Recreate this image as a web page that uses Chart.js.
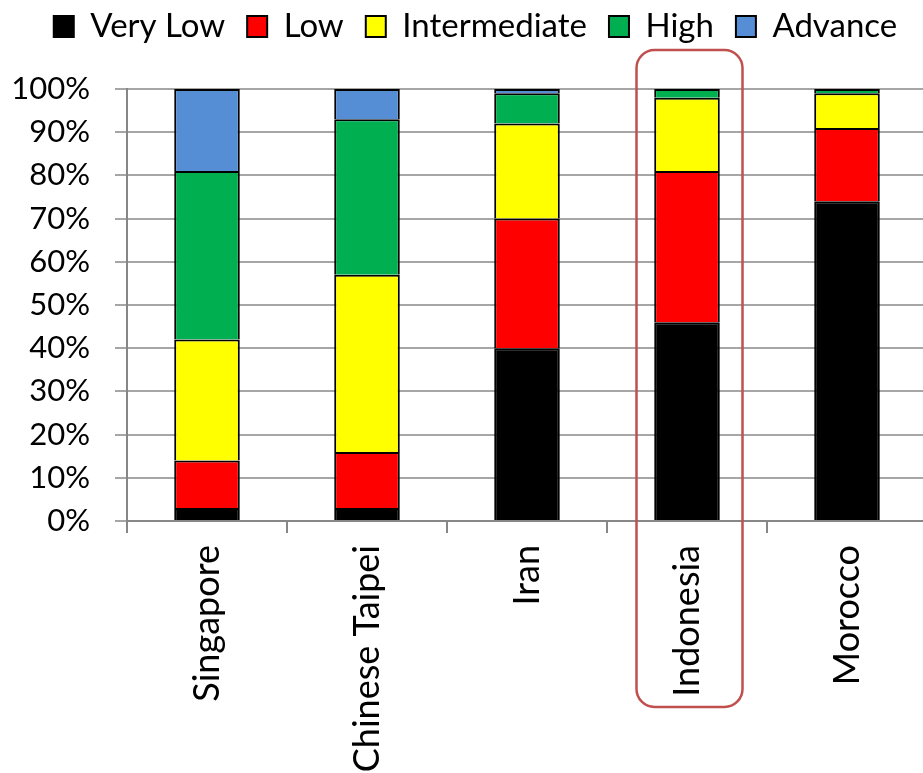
<!DOCTYPE html>
<html>
<head>
<meta charset="utf-8">
<script src="https://cdn.jsdelivr.net/npm/chart.js@4/dist/chart.umd.min.js"></script>
<style>
  html, body { margin: 0; padding: 0; background: #fff; overflow: hidden; }
  canvas { display: block; }
</style>
</head>
<body>
<canvas id="levelChart" width="927" height="773"></canvas>
<script>
// 数据
const countries = ['Singapore', 'Chinese Taipei', 'Iran', 'Indonesia', 'Morocco'];
const veryLow = [3, 3, 40, 46, 74];
const low = [11, 13, 30, 35, 17];
const intermediate = [28, 41, 22, 17, 8];
const high = [39, 36, 7, 2, 1];
const advance = [19, 7, 1, 0, 0];
const yTicks = [0, 10, 20, 30, 40, 50, 60, 70, 80, 90, 100];
const highlighted = 'Indonesia';

(function() {
  'use strict';

  const FONT = 'Lato, "Open Sans", sans-serif';
  const GRID = '#a6a6a6';
  const AXIS = '#878787';

  /**
   * 生成一个堆叠柱数据集
   */
  function series(label, data, color) {
    return {
      label: label,
      data: data,
      backgroundColor: color,
      borderColor: '#000000',
      borderWidth: 2,
      barPercentage: 0.41,
      categoryPercentage: 1.0
    };
  }

  /**
   * 图例：下方留白，整体右移一点
   */
  const legendTweak = {
    id: 'legendTweak',
    beforeUpdate(chart) {
      const legend = chart.legend;
      if (!legend || legend._patched) return;
      const fit = legend.fit;
      const draw = legend.draw;
      legend.fit = function() {
        fit.call(this);
        this.height += 36;
      };
      legend.draw = function() {
        this.ctx.save();
        this.ctx.translate(12, 0);
        draw.call(this);
        this.ctx.restore();
      };
      legend._patched = true;
    }
  };

  /**
   * 给 Indonesia 画圆角框
   */
  const highlightBox = {
    id: 'highlightBox',
    afterDraw(chart) {
      const idx = countries.indexOf(highlighted);
      if (idx < 0) return;
      const { ctx, chartArea } = chart;
      const cx = chart.scales.x.getPixelForValue(idx);
      const left = cx - 50.5;
      const right = cx + 55.5;
      const top = chartArea.top - 39;
      const bottom = chartArea.bottom + 186;
      const r = 18;
      ctx.save();
      ctx.strokeStyle = '#c0504d';
      ctx.lineWidth = 2.5;
      ctx.beginPath();
      ctx.moveTo(left + r, top);
      ctx.lineTo(right - r, top);
      ctx.arcTo(right, top, right, top + r, r);
      ctx.lineTo(right, bottom - r);
      ctx.arcTo(right, bottom, right - r, bottom, r);
      ctx.lineTo(left + r, bottom);
      ctx.arcTo(left, bottom, left, bottom - r, r);
      ctx.lineTo(left, top + r);
      ctx.arcTo(left, top, left + r, top, r);
      ctx.closePath();
      ctx.stroke();
      ctx.restore();
    }
  };

  const ctx = document.getElementById('levelChart').getContext('2d');

  new Chart(ctx, {
    type: 'bar',
    data: {
      labels: countries,
      datasets: [
        series('Very Low', veryLow, '#000000'),
        series('Low', low, '#ff0000'),
        series('Intermediate', intermediate, '#ffff00'),
        series('High', high, '#00b050'),
        series('Advance', advance, '#558ed5')
      ]
    },
    options: {
      responsive: false,
      animation: false,
      layout: { padding: { top: -12, left: 0, right: 0, bottom: 0 } },
      plugins: {
        legend: {
          position: 'top',
          labels: {
            color: '#000',
            font: { family: FONT, size: 33 },
            boxWidth: 20,
            boxHeight: 21,
            padding: 22
          }
        },
        tooltip: { enabled: false }
      },
      scales: {
        x: {
          stacked: true,
          border: { color: AXIS, width: 2 },
          grid: {
            drawOnChartArea: false,
            drawTicks: true,
            tickLength: 12,
            color: AXIS,
            lineWidth: 2
          },
          ticks: {
            color: '#000',
            font: { family: FONT, size: 36 },
            minRotation: 90,
            maxRotation: 90,
            padding: 12
          },
          afterFit(scale) { scale.height = 252; }
        },
        y: {
          stacked: true,
          min: 0,
          max: 100,
          border: { color: AXIS, width: 2 },
          grid: {
            color: GRID,
            lineWidth: 2,
            tickLength: 12
          },
          afterBuildTicks(scale) {
            scale.ticks = yTicks.map(v => ({ value: v }));
          },
          ticks: {
            color: '#000',
            font: { family: FONT, size: 31 },
            padding: 25,
            callback: v => v + '%'
          },
          afterFit(scale) { scale.width = 127; }
        }
      }
    },
    plugins: [legendTweak, highlightBox]
  });
})();
</script>
</body>
</html>
